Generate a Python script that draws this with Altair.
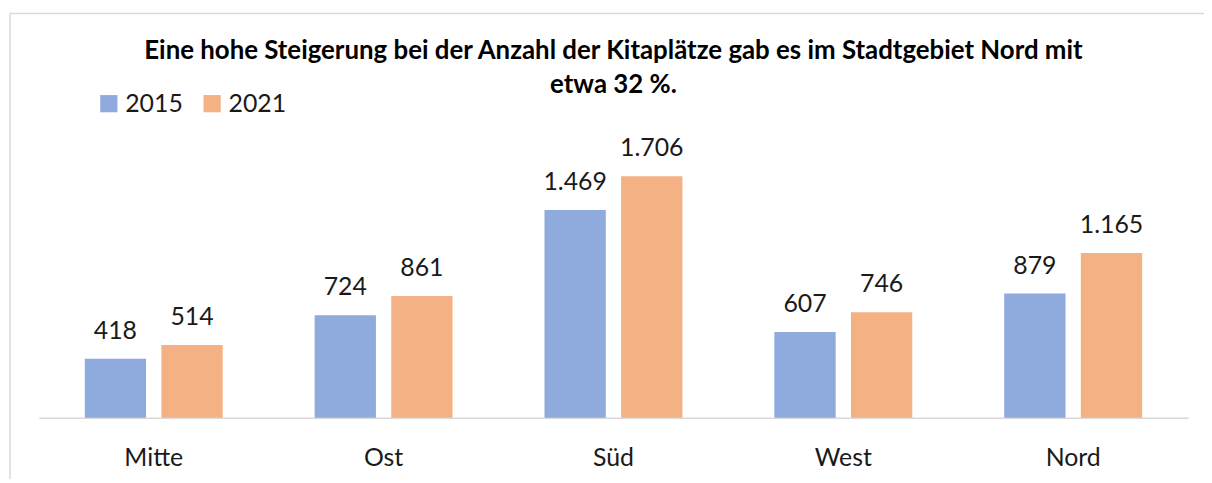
import altair as alt
import pandas as pd

categories = ["Mitte", "Ost", "Süd", "West", "Nord"]
values_2015 = [418, 724, 1469, 607, 879]
values_2021 = [514, 861, 1706, 746, 1165]
years = ["2015", "2021"]
colors = ["#8FAADC", "#F4B183"]
title_lines = [
    "Eine hohe Steigerung bei der Anzahl der Kitaplätze gab es im Stadtgebiet Nord mit",
    "etwa 32 %.",
]

rows = []
for c, a, b in zip(categories, values_2015, values_2021):
    rows.append({"cat": c, "year": "2015", "value": a})
    rows.append({"cat": c, "year": "2021", "value": b})
df = pd.DataFrame(rows)

FONT = "Lato"
FS = 25

x_enc = alt.X("cat:N", sort=categories, title=None,
              scale=alt.Scale(paddingInner=0.4, paddingOuter=0.2),
              axis=alt.Axis(labelAngle=0, ticks=False, domainColor="#D9D9D9",
                            domainWidth=1.5, labelFontSize=FS, labelColor="#1a1a1a",
                            labelFont=FONT, labelBaseline="alphabetic", labelPadding=48))
xo_enc = alt.XOffset("year:N", sort=years, scale=alt.Scale(paddingInner=0.2, paddingOuter=0))
y_enc = alt.Y("value:Q", scale=alt.Scale(domain=[0, 2000]), axis=None)

base = alt.Chart(df)

bars = base.mark_bar().encode(
    x=x_enc, xOffset=xo_enc, y=y_enc,
    color=alt.Color("year:N", sort=years,
                    scale=alt.Scale(domain=years, range=colors),
                    legend=alt.Legend(title=None, orient="none", legendX=58, legendY=-44,
                                      direction="horizontal", symbolType="square",
                                      symbolSize=300, symbolStrokeWidth=0,
                                      labelFontSize=FS, labelFont=FONT, labelColor="#1a1a1a",
                                      labelOffset=4, columnPadding=16)),
)

labels = base.transform_calculate(
    lbl="replace(format(datum.value, ','), ',', '.')"
).mark_text(baseline="alphabetic", dy=-20, fontSize=FS, font=FONT, color="#1a1a1a").encode(
    x=x_enc, xOffset=xo_enc, y=y_enc, text="lbl:N"
)

one = pd.DataFrame({"k": [0]})
border_left = alt.Chart(one).mark_rule(color="#D9D9D9", strokeWidth=1.5).encode(
    x=alt.value(-29), y=alt.value(-122), y2=alt.value(400)
)
border_top = alt.Chart(one).mark_rule(color="#D9D9D9", strokeWidth=1.5).encode(
    x=alt.value(-29), x2=alt.value(1173), y=alt.value(-122)
)

title1 = alt.Chart(pd.DataFrame({"t": [title_lines[0]]})).mark_text(
    fontSize=26, font=FONT, fontWeight="bold", color="#000000", baseline="alphabetic"
).encode(x=alt.value(578.5), y=alt.value(-76), text="t:N")
title2 = alt.Chart(pd.DataFrame({"t": [title_lines[1]]})).mark_text(
    fontSize=26, font=FONT, fontWeight="bold", color="#000000", baseline="alphabetic"
).encode(x=alt.value(578.5), y=alt.value(-42), text="t:N")

chart = alt.layer(border_left, border_top, title1, title2, bars, labels).properties(
    width=1157, height=285,
    padding={"left": 31, "top": 126, "right": 16, "bottom": 60},
    autosize=alt.AutoSizeParams(type="none"),
).configure(background="white").configure_view(stroke=None)

chart.save("out.html", embed_options={"renderer": "svg", "actions": False})
